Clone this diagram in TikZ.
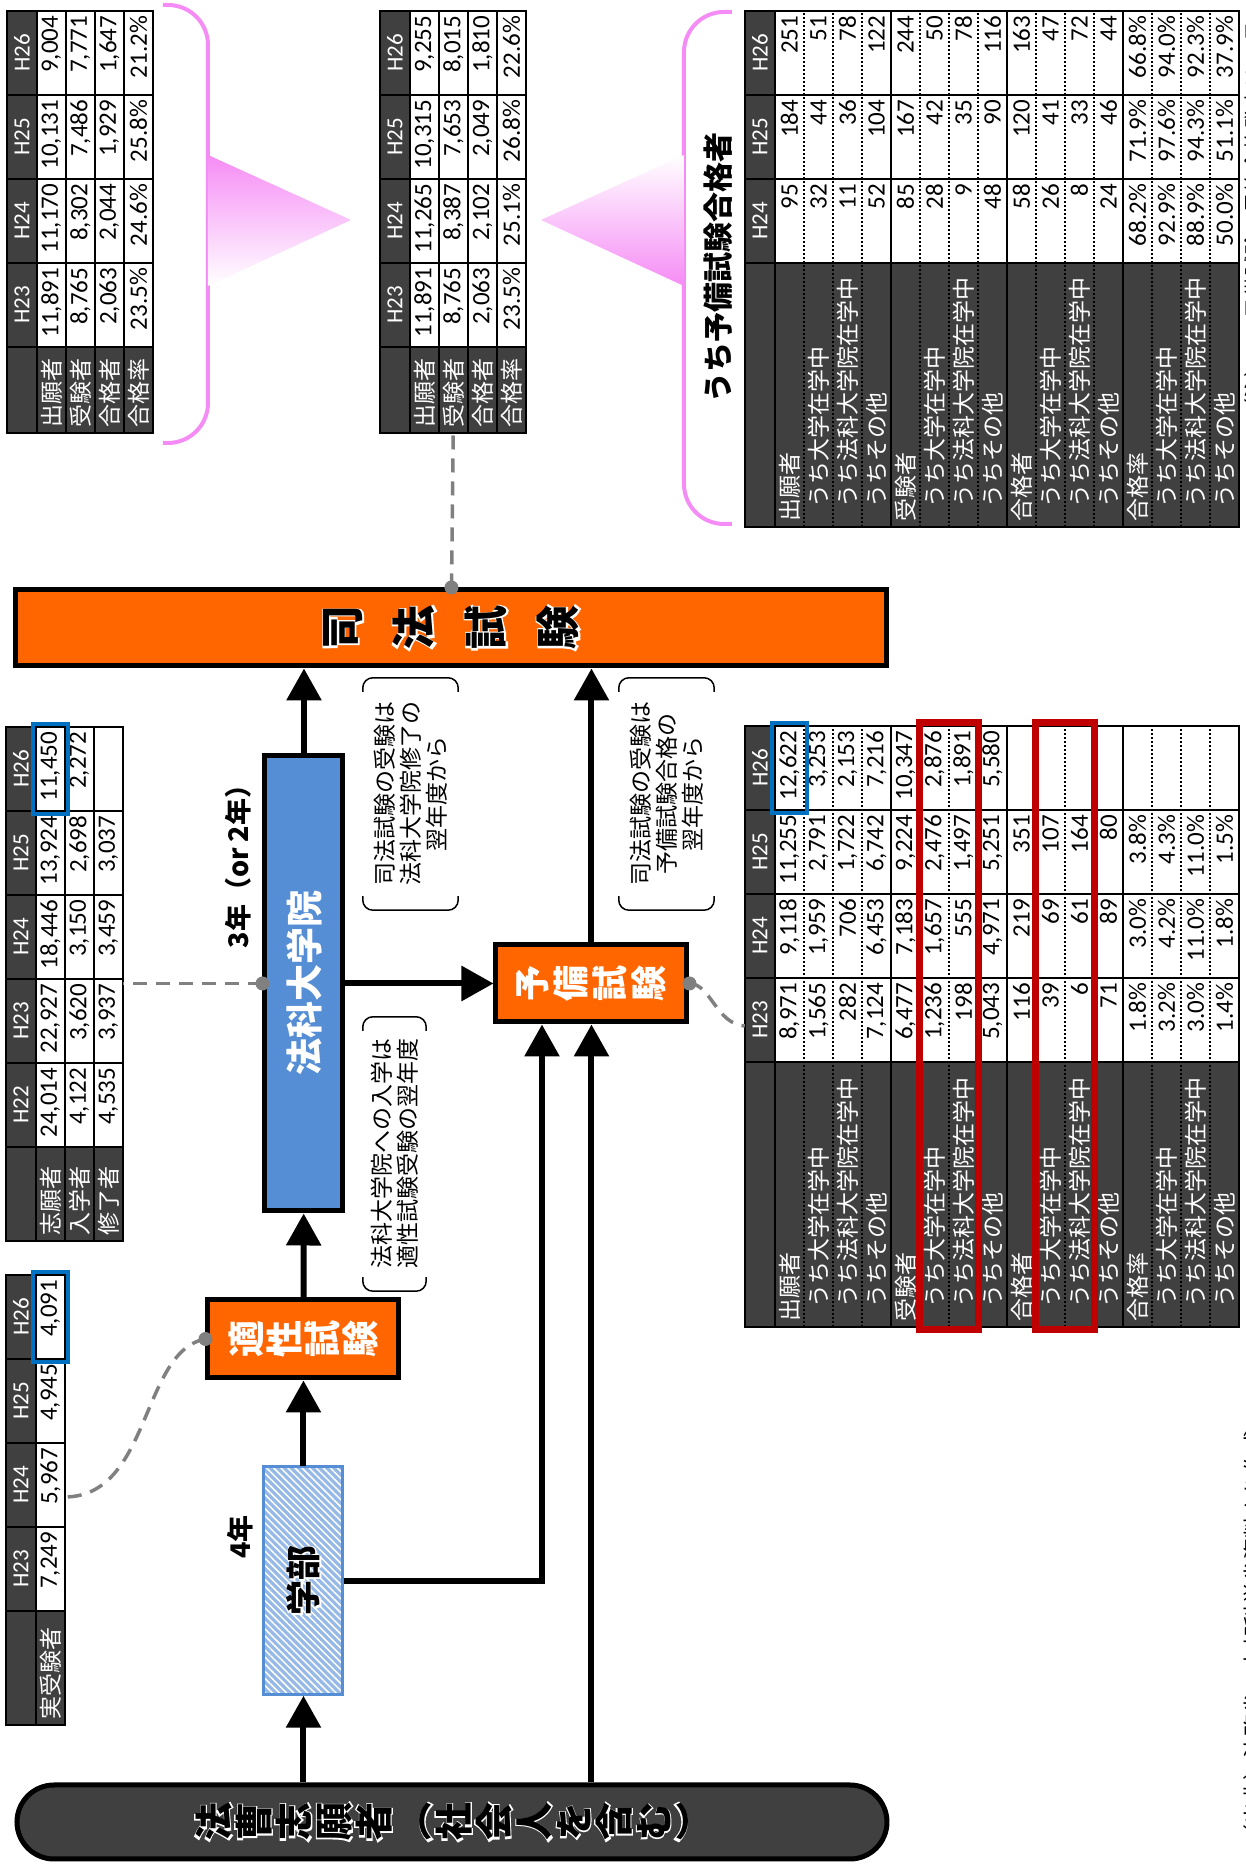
\documentclass[tikz,border=0pt]{standalone}
\usepackage{fontspec}
\setmainfont{Carlito}
\newfontfamily\jp{Noto Sans CJK JP}
\newfontfamily\jpglow{Noto Sans CJK JP}[FakeBold=10]
\usetikzlibrary{arrows.meta,patterns.meta,calc}

\definecolor{examorange}{RGB}{255,102,0}
\definecolor{lawblue}{RGB}{85,142,213}
\definecolor{darkcell}{RGB}{64,64,64}
\definecolor{stripeblue}{RGB}{150,185,230}
\definecolor{markpink}{RGB}{245,140,245}
\definecolor{markred}{RGB}{192,0,0}
\definecolor{markblue}{RGB}{0,112,192}
\definecolor{leadgray}{RGB}{128,128,128}

\tikzset{
  tabrule/.style={line width=2pt},
  dotrule/.style={line width=2pt, dash pattern=on 2pt off 2pt},
  headcell/.style={minimum width=84pt, minimum height=30pt, inner sep=0pt,
    text=white, font=\fontsize{23}{24}\selectfont},
  valcell/.style={minimum height=29pt, text width=74pt, inner xsep=5pt,
    inner ysep=0pt, align=right, font=\fontsize{25}{26}\selectfont},
  labtxt/.style={anchor=west, inner sep=0pt, text=white,
    font=\jp\fontsize{23}{24}\selectfont},
  examnode/.style={draw, line width=5pt, fill=examorange, inner sep=0pt},
  schoolnode/.style={draw, line width=5pt, fill=lawblue, inner sep=0pt},
  facultynode/.style={draw=lawblue, line width=3pt, preaction={fill=stripeblue},
    pattern={Lines[angle=-45,distance=5pt,line width=1.5pt]}, pattern color=white,
    inner sep=0pt},
  applicantnode/.style={draw, line width=5pt, fill=darkcell,
    rounded corners=37pt, inner sep=0pt},
  boxtxt/.style={align=center, inner sep=0pt},
  glowtxt/.style={align=center, inner sep=0pt, text=white},
  flow/.style={line width=6pt, -{Triangle[length=32pt,width=34pt]}},
  leader/.style={leadgray, line width=3.5pt, dash pattern=on 14pt off 9pt},
  note/.style={align=center, inner sep=0pt, font=\jp\fontsize{23}{26}\selectfont},
  notebracket/.style={line width=1.5pt, rounded corners=10pt},
  yearlabel/.style={inner sep=0pt, font=\jp\bfseries\fontsize{27}{28}\selectfont},
  pinkline/.style={markpink, line width=4pt, rounded corners=40pt},
  bluemark/.style={markblue, line width=4pt},
  redmark/.style={markred, line width=7pt},
}

% #1 name, #2 top left, #3 label width, #4 years, #5 rows,
% #6 no. of years, #7 no. of rows, #8 rows per group
\newcommand{\yeartable}[8]{%
  \begin{scope}[shift={#2}]
    \fill[darkcell] (0,0) rectangle (#3+#6*84,-30);
    \fill[darkcell] (0,-30) rectangle (#3,-30-#7*29);
    \node[anchor=north west, inner sep=0pt, minimum width=#3+#6*84,
      minimum height=30+#7*29] (#1) at (0,0) {};
    \foreach \yr [count=\c] in {#4}
      \node[headcell] (#1-h\c) at (#3+\c*84-42,-15) {\yr};
    \foreach \lab/\ind/\vals [count=\r] in {#5} {
      \node[labtxt] (#1-l\r) at (5+\ind*14,-15.5-\r*29) {\lab};
      \foreach \v [count=\c] in \vals
        \node[valcell] (#1-\r-\c) at (#3+\c*84-42,-15.5-\r*29) {\v};
    }
    \foreach \r in {1,...,#7}
      \draw[dotrule] (0,-30-\r*29) -- ++(#3+#6*84,0);
    \foreach \r in {0,#8,...,#7}
      \draw[tabrule] (0,-30-\r*29) -- ++(#3+#6*84,0);
    \foreach \c in {0,...,#6}
      \draw[tabrule] (#3+\c*84,0) -- ++(0,-30-#7*29);
    \draw[tabrule] (0,0) rectangle (#3+#6*84,-30-#7*29);
  \end{scope}}

\begin{document}
\begin{tikzpicture}[rotate=90, transform shape, x=1pt, y=1pt]
\useasboundingbox (0,0) rectangle (1866,1246);

% tables
\yeartable{tl}{(1433,1239)}{86}{H23,H24,H25,H26}{
  出願者/0/{{11,891},{11,170},{10,131},{9,004}},
  受験者/0/{{8,765},{8,302},{7,486},{7,771}},
  合格者/0/{{2,063},{2,044},{1,929},{1,647}},
  合格率/0/{23.5\%,24.6\%,25.8\%,21.2\%}}{4}{4}{1}
\yeartable{tm}{(1433,866)}{86}{H23,H24,H25,H26}{
  出願者/0/{{11,891},{11,265},{10,315},{9,255}},
  受験者/0/{{8,765},{8,387},{7,653},{8,015}},
  合格者/0/{{2,063},{2,102},{2,049},{1,810}},
  合格率/0/{23.5\%,25.1\%,26.8\%,22.6\%}}{4}{4}{1}
\yeartable{tr}{(1339,501)}{264}{H24,H25,H26}{
  出願者/0/{95,184,251},
  うち大学在学中/1/{32,44,51},
  うち法科大学院在学中/1/{11,36,78},
  うちその他/1/{52,104,122},
  受験者/0/{85,167,244},
  うち大学在学中/1/{28,42,50},
  うち法科大学院在学中/1/{9,35,78},
  うちその他/1/{48,90,116},
  合格者/0/{58,120,163},
  うち大学在学中/1/{26,41,47},
  うち法科大学院在学中/1/{8,33,72},
  うちその他/1/{24,46,44},
  合格率/0/{68.2\%,71.9\%,66.8\%},
  うち大学在学中/1/{92.9\%,97.6\%,94.0\%},
  うち法科大学院在学中/1/{88.9\%,94.3\%,92.3\%},
  うちその他/1/{50.0\%,51.1\%,37.9\%}}{3}{16}{4}
\yeartable{br}{(539,501)}{265}{H23,H24,H25,H26}{
  出願者/0/{{8,971},{9,118},{11,255},{12,622}},
  うち大学在学中/1/{{1,565},{1,959},{2,791},{3,253}},
  うち法科大学院在学中/1/{282,706,{1,722},{2,153}},
  うちその他/1/{{7,124},{6,453},{6,742},{7,216}},
  受験者/0/{{6,477},{7,183},{9,224},{10,347}},
  うち大学在学中/1/{{1,236},{1,657},{2,476},{2,876}},
  うち法科大学院在学中/1/{198,555,{1,497},{1,891}},
  うちその他/1/{{5,043},{4,971},{5,251},{5,580}},
  合格者/0/{116,219,351},
  うち大学在学中/1/{39,69,107},
  うち法科大学院在学中/1/{6,61,164},
  うちその他/1/{71,89,80},
  合格率/0/{1.8\%,3.0\%,3.8\%},
  うち大学在学中/1/{3.2\%,4.2\%,4.3\%},
  うち法科大学院在学中/1/{3.0\%,11.0\%,11.0\%},
  うちその他/1/{1.4\%,1.8\%,1.5\%}}{4}{16}{4}
\yeartable{ls}{(625,1240)}{94}{H22,H23,H24,H25,H26}{
  志願者/0/{{24,014},{22,927},{18,446},{13,924},{11,450}},
  入学者/0/{{4,122},{3,620},{3,150},{2,698},{2,272}},
  修了者/0/{{4,535},{3,937},{3,459},{3,037}}}{5}{3}{1}
\yeartable{jj}{(141,1240)}{114}{H23,H24,H25,H26}{
  実受験者/0/{{7,249},{5,967},{4,945},{4,091}}}{4}{1}{1}

% marks on the tables
\draw[bluemark] ([shift={(-3,3)}]ls-1-5.north west) rectangle ([shift={(3,-3)}]ls-1-5.south east);
\draw[bluemark] ([shift={(-3,3)}]jj-1-4.north west) rectangle ([shift={(3,-3)}]jj-1-4.south east);
\draw[bluemark] ([shift={(-3,3)}]br-1-4.north west) rectangle ([shift={(3,-3)}]br-1-4.south east);
\draw[redmark] ([xshift=-3]br.west |- br-6-1.north) rectangle ([xshift=3]br-7-4.south east);
\draw[redmark] ([xshift=-3]br.west |- br-10-1.north) rectangle ([xshift=3]br-11-3.south east -| br.east);

% pink brackets
\draw[pinkline] (1423,1083) -- (1423,1038) -- (1861,1038) -- (1861,1083);
\shade[top color=markpink, bottom color=white] (1580,1038) -- (1711,1038) -- (1646,895) -- cycle;
\draw[pinkline] (1342,514) -- (1342,562) -- (1854,562) -- (1854,514);
\shade[bottom color=markpink, top color=white] (1580,562) -- (1711,562) -- (1646,705) -- cycle;
\node[inner sep=0pt, font=\jp\bfseries\fontsize{30}{32}\selectfont] (yobititle) at (1598,528) {うち予備試験合格者};

% flow boxes
\node[applicantnode, minimum width=74pt, minimum height=870pt] (hoso) at (44,794) {};
\node[glowtxt, font=\jpglow\fontsize{38}{40}\selectfont] (hoso-glow) at (hoso)
  {法\\曹\\志\\願\\者\\︵\\社\\会\\人\\を\\含\\む\\︶};
\node[boxtxt, font=\jp\bfseries\fontsize{38}{40}\selectfont] (hoso-txt) at (hoso)
  {法\\曹\\志\\願\\者\\︵\\社\\会\\人\\を\\含\\む\\︶};

\node[facultynode, minimum width=228pt, minimum height=79pt] (gakubu) at (285,942.5) {};
\node[glowtxt, font=\jpglow\fontsize{35}{36}\selectfont] (gakubu-glow) at (gakubu) {学部};
\node[boxtxt, font=\jp\bfseries\fontsize{35}{36}\selectfont] (gakubu-txt) at (gakubu) {学部};

\node[examnode, minimum width=78pt, minimum height=191pt] (tekisei) at (527,942.5) {};
\node[boxtxt, text=white, font=\jp\bfseries\fontsize{37}{38}\selectfont] (tekisei-txt) at (tekisei)
  {適\\性\\試\\験};

\node[schoolnode, minimum width=455pt, minimum height=78pt] (houka) at (882.5,942) {};
\node[boxtxt, text=white, font=\jp\bfseries\fontsize{37}{38}\selectfont] (houka-txt) at (houka) {法科大学院};

\node[examnode, minimum width=77pt, minimum height=191pt] (yobi) at (882.5,654.5) {};
\node[boxtxt, text=white, font=\jp\bfseries\fontsize{36}{39}\selectfont] (yobi-txt) at (yobi)
  {予\\備\\試\\験};

\node[examnode, minimum width=76pt, minimum height=871pt] (shiho) at (1238,794.5) {};
\node[glowtxt, font=\jpglow\fontsize{44}{72}\selectfont] (shiho-glow) at (shiho) {司\\法\\試\\験};
\node[boxtxt, font=\jp\bfseries\fontsize{44}{72}\selectfont] (shiho-txt) at (shiho) {司\\法\\試\\験};

% years
\node[yearlabel] (fouryr) at (329,1006) {4年};
\node[yearlabel] (threeyr) at (1006,1008) {3年（or 2年）};

% arrows
\draw[flow] (hoso.east |- gakubu) -- (gakubu);
\draw[flow] (gakubu) -- (tekisei);
\draw[flow] (tekisei) -- (houka);
\draw[flow] (houka) -- (houka -| shiho.west);
\draw[flow] (houka) -- (yobi);
\draw[flow] (yobi) -- (yobi -| shiho.west);
\draw[flow] (hoso.east |- yobi) -- (yobi);
\draw[flow] (gakubu.south) |- ([yshift=49.5]yobi.west);

% notes
\node[note, minimum width=232pt, minimum height=95pt] (shuryo) at (1072,835.5)
  {司法試験の受験は\\法科大学院修了の\\翌年度から};
\node[note, minimum width=232pt, minimum height=95pt] (gokaku) at (1072,579.5)
  {司法試験の受験は\\予備試験合格の\\翌年度から};
\node[note, minimum width=274pt, minimum height=63pt] (nyugaku) at (712,851.5)
  {法科大学院への入学は\\適性試験受験の翌年度};
\foreach \n in {shuryo,gokaku,nyugaku} {
  \draw[notebracket] ([xshift=14]\n.north west) -- (\n.north west) -- (\n.south west) -- ([xshift=14]\n.south west);
  \draw[notebracket] ([xshift=-14]\n.north east) -- (\n.north east) -- (\n.south east) -- ([xshift=-14]\n.south east);
}

% leaders to the tables
\draw[leader] (shiho.east) -- (tm.west);
\draw[leader] (houka.north) -- (houka.north |- ls.south);
\draw[leader] (yobi.south) .. controls (882,535) and (842,530) .. ([xshift=-6]br-h1.north);
\draw[leader] (tekisei.north) .. controls (515,1105) and (370,1095) .. ([xshift=-12]jj-1-2.south);
\foreach \p in {shiho.east,houka.north,yobi.south,tekisei.north}
  \fill[leadgray] (\p) circle (7);

% source lines, cut by the page edge
\node[anchor=base west, inner sep=0pt, font=\jp\fontsize{22}{24}\selectfont] (source) at (19,-17)
  {（出典）法務省・文部科学省資料より作成};
\node[anchor=base west, inner sep=0pt, font=\jp\fontsize{21}{24}\selectfont] (remark) at (1446,-17)
  {（注）H26予備試験の最終合格発表は11月};
\end{tikzpicture}
\end{document}
